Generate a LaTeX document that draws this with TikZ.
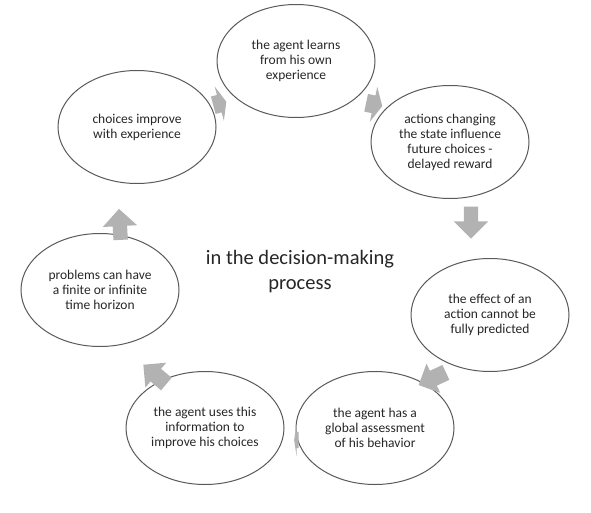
\documentclass[tikz,border=0pt]{standalone}
\usepackage{fontspec}
\setmainfont{Carlito}
\usetikzlibrary{shapes}
\usetikzlibrary{shapes.arrows}

\begin{document}
\begin{tikzpicture}[
    x=1pt, y=-1pt,
    every node/.style={font=\fontsize{13.5}{15}\selectfont, text=black!85},
    stage/.style={draw=black!65, line width=1pt, ellipse, inner sep=0pt, minimum width=158pt, minimum height=113pt, align=center},
    flow/.style={single arrow, fill=black!30, draw=none, inner sep=0pt, text height=8pt, text depth=8pt, single arrow head extend=8pt}
]
\useasboundingbox (0,0) rectangle (591,513);
\node[stage] (learn) at (296,61) {the agent learns\\from his own\\experience};
\node[stage] (actions) at (450,142) {actions changing\\the state influence\\future choices -\\delayed reward};
\node[stage] (effect) at (490,315) {the effect of an\\action cannot be\\fully predicted};
\node[stage] (assess) at (375,428) {the agent has a\\global assessment\\of his behavior};
\node[stage] (uses) at (205,428) {the agent uses this\\information to\\improve his choices};
\node[stage] (horizon) at (100,290) {problems can have\\a finite or infinite\\time horizon};
\node[stage] (improve) at (137,127) {choices improve\\with experience};
\node[font=\fontsize{20.5}{25}\selectfont, align=center] (center) at (300,272) {in the decision-making\\process};
% arrows between the stages (the flat ones are seen from the side)
\begin{scope}[shift={(218,104)}, rotate=15, xscale=0.45, yscale=1.1, transform shape]
\node[flow, minimum height=30pt] (a71) at (0,0) {};
\end{scope}
\begin{scope}[shift={(372,104)}, rotate=-12, xscale=0.55, yscale=1.1, transform shape]
\node[flow, minimum height=30pt] (a12) at (0,0) {};
\end{scope}
\node[flow, minimum height=32pt, text height=7pt, text depth=7pt, single arrow head extend=10pt, rotate=-90] (a23) at (471,219) {};
\node[flow, minimum height=30pt, rotate=205] (a34) at (436,377) {};
\begin{scope}[shift={(297,440)}, xscale=0.15, transform shape]
\node[flow, fill=black!30, minimum height=30pt, rotate=180] (a45) at (0,0) {};
\end{scope}
\node[flow, minimum height=30pt, rotate=140] (a56) at (158,377) {};
\node[flow, minimum height=31pt, text height=7pt, text depth=7pt, single arrow head extend=10pt, rotate=93] (a67) at (120,228) {};
\end{tikzpicture}
\end{document}
